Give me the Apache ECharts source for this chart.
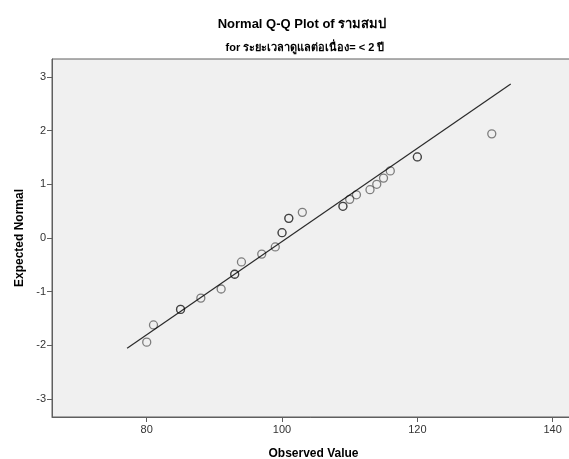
<!DOCTYPE html>
<html>
<head>
<meta charset="utf-8">
<script src="https://cdn.jsdelivr.net/npm/echarts@6/dist/echarts.min.js"></script>
<style>
  html, body { margin: 0; padding: 0; background: #fff; }
  #chart { width: 569px; height: 459px; }
</style>
</head>
<body>
<div id="chart"></div>
<script>
// one entry per case (tied cases repeat, so their circles overlap darker)
var observed = [80, 81, 85, 85, 88, 91, 93, 93, 94, 97, 99, 100, 100, 101, 101, 103,
  109, 109, 110, 111, 113, 114, 115, 116, 120, 120, 131];
var expected = [-1.94, -1.62, -1.33, -1.33, -1.12, -0.95, -0.675, -0.675, -0.446, -0.30,
  -0.167, 0.099, 0.099, 0.366, 0.366, 0.478, 0.59, 0.59, 0.72, 0.805, 0.90, 1.0,
  1.116, 1.25, 1.51, 1.51, 1.94];

// reference line: expected = (x - mean) / sd
var lineMean = 100.75;
var lineSd = 11.52;
var lineRange = [77.1, 133.8];

var xTicks = [80, 100, 120, 140];
var yTicks = [-3, -2, -1, 0, 1, 2, 3];

var chart = echarts.init(document.getElementById('chart'));

var points = observed.map(function (v, i) { return [v, expected[i]]; });
var lineData = lineRange.map(function (x) { return [x, (x - lineMean) / lineSd]; });

var font = 'Liberation Sans, Arial, sans-serif';
var axisCol = '#5f5f5f';

var option = {
  animation: false,
  title: [
    {
      text: 'Normal Q-Q Plot of รามสมป',
      left: 297,
      top: 13,
      textAlign: 'center',
      textStyle: { fontFamily: font, fontSize: 13, fontWeight: 'bold', color: '#000' }
    },
    {
      text: 'for ระยะเวลาดูแลต่อเนื่อง= < 2 ปี',
      left: 300,
      top: 37,
      textAlign: 'center',
      textStyle: { fontFamily: font, fontSize: 11, fontWeight: 'bold', color: '#000' }
    }
  ],
  grid: {
    left: 52,
    top: 59,
    right: -6,
    bottom: 42,
    outerBoundsMode: 'none',
    containLabel: false,
    show: true,
    backgroundColor: '#f0f0f0',
    borderColor: axisCol,
    borderWidth: 1
  },
  xAxis: {
    type: 'value',
    min: 66,
    max: 143.3,
    name: 'Observed Value',
    nameLocation: 'middle',
    nameGap: 31,
    nameTextStyle: { fontFamily: font, fontSize: 12, fontWeight: 'bold', color: '#000' },
    axisLine: { show: true, onZero: false, lineStyle: { color: axisCol } },
    axisTick: { show: true, length: 5, lineStyle: { color: axisCol }, customValues: xTicks },
    axisLabel: { fontFamily: font, fontSize: 11, color: '#333', margin: 7, customValues: xTicks },
    splitLine: { show: false }
  },
  yAxis: {
    type: 'value',
    min: -3.335,
    max: 3.335,
    name: 'Expected Normal',
    nameLocation: 'middle',
    nameGap: 21,
    nameRotate: 90,
    nameTextStyle: { fontFamily: font, fontSize: 12, fontWeight: 'bold', color: '#000' },
    axisLine: { show: true, onZero: false, lineStyle: { color: axisCol } },
    axisTick: { show: true, length: 5, lineStyle: { color: axisCol }, customValues: yTicks },
    axisLabel: { fontFamily: font, fontSize: 11, color: '#333', margin: 6, customValues: yTicks },
    splitLine: { show: false }
  },
  series: [
    {
      type: 'line',
      data: lineData,
      symbol: 'none',
      silent: true,
      lineStyle: { color: '#2a2a2a', width: 1.2 },
      z: 1
    },
    {
      type: 'scatter',
      data: points,
      symbol: 'circle',
      symbolSize: 8,
      itemStyle: { color: 'rgba(0,0,0,0)', borderColor: 'rgba(0,0,0,0.6)', borderWidth: 1.3 },
      z: 2
    }
  ]
};

chart.setOption(option);
</script>
</body>
</html>
